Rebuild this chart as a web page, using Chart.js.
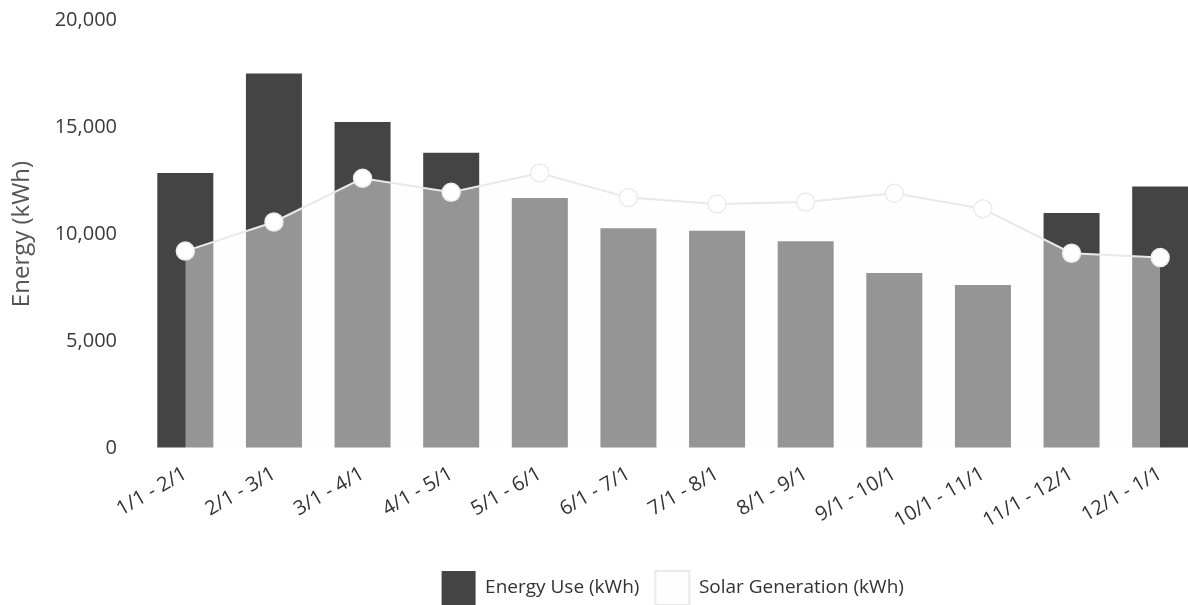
<!DOCTYPE html>
<html>
<head>
<meta charset="utf-8">
<script src="https://cdn.jsdelivr.net/npm/chart.js@4"></script>
<style>
  html, body { margin: 0; padding: 0; overflow: hidden; background: #ffffff; }
  #wrap { position: absolute; left: 0; top: 0; width: 1215px; height: 615px; }
</style>
</head>
<body>
<div id="wrap"><canvas id="c" width="1215" height="615"></canvas></div>
<script>
const categories = ["1/1 - 2/1", "2/1 - 3/1", "3/1 - 4/1", "4/1 - 5/1", "5/1 - 6/1", "6/1 - 7/1",
                    "7/1 - 8/1", "8/1 - 9/1", "9/1 - 10/1", "10/1 - 11/1", "11/1 - 12/1", "12/1 - 1/1"];
const energyUse = [12850, 17500, 15230, 13800, 11680, 10270, 10150, 9660, 8180, 7620, 10980, 12220];
const solarGeneration = [9200, 10560, 12600, 11950, 12850, 11700, 11400, 11490, 11900, 11180, 9100, 8900];
const yTicks = [0, 5000, 10000, 15000, 20000];

const legendOnPlot = {
  id: 'legendOnPlot',
  afterLayout(chart) {
    const l = chart.legend, ca = chart.chartArea;
    if (!l || !ca) return;
    l.left = ca.left; l.right = ca.right;
  }
};

const FONT = "'Open Sans', 'Noto Sans', sans-serif";

new Chart(document.getElementById('c'), {
  data: {
    labels: categories,
    datasets: [
      {
        type: 'bar',
        label: 'Energy Use (kWh)',
        data: energyUse,
        backgroundColor: '#444444',
        borderWidth: 0,
        barPercentage: 0.632,
        categoryPercentage: 1.0,
        order: 1
      },
      {
        type: 'line',
        label: 'Solar Generation (kWh)',
        data: solarGeneration,
        borderColor: '#e9e9e9',
        borderWidth: 2,
        backgroundColor: 'rgba(252,252,252,0.44)',
        fill: 'origin',
        tension: 0,
        pointRadius: 9,
        pointHoverRadius: 9,
        pointBackgroundColor: '#ffffff',
        pointBorderColor: '#ececec',
        pointBorderWidth: 1.5,
        order: 0
      }
    ]
  },
  options: {
    responsive: false,
    animation: false,
    layout: { padding: { top: 20, right: 0, left: 0, bottom: 0 } },
    plugins: {
      tooltip: { enabled: false },
      legend: {
        position: 'bottom',
        reverse: true,
        labels: {
          boxWidth: 34,
          boxHeight: 34,
          padding: 16,
          color: '#333333',
          font: { family: FONT, size: 19 }
        }
      }
    },
    scales: {
      x: {
        offset: true,
        grid: { display: false, drawTicks: false },
        border: { display: false },
        ticks: {
          minRotation: 30,
          maxRotation: 30,
          padding: 14,
          color: '#333333',
          font: { family: FONT, size: 20 }
        },
        afterFit(scale) { scale.height = 107; }
      },
      y: {
        min: 0,
        max: 20000,
        grid: {
          display: true,
          drawOnChartArea: false,
          drawTicks: true,
          tickLength: 22,
          color: 'rgba(0,0,0,0)',
          tickColor: 'rgba(0,0,0,0)'
        },
        border: { display: false },
        afterBuildTicks(scale) { scale.ticks = yTicks.map(v => ({ value: v })); },
        ticks: {
          padding: 2,
          color: '#3a3a3a',
          font: { family: FONT, size: 20 }
        },
        title: {
          display: true,
          text: 'Energy (kWh)',
          color: '#555555',
          font: { family: FONT, size: 24 },
          padding: { top: 8, bottom: 0 }
        },
        afterFit(scale) { scale.width = 141; }
      }
    }
  },
  plugins: [legendOnPlot]
});
</script>
</body>
</html>
